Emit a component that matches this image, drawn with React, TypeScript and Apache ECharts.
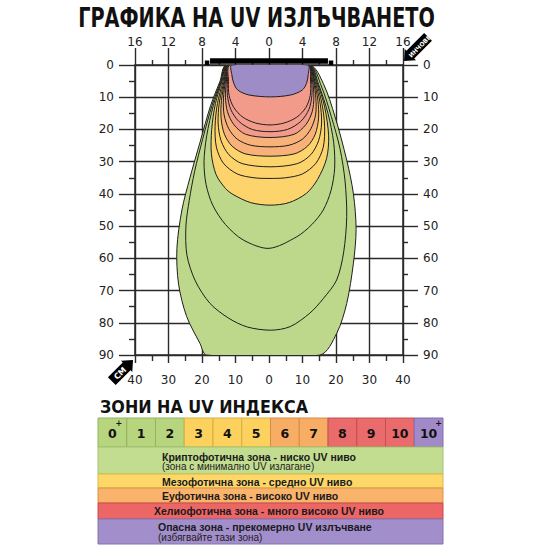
import React, { useEffect, useRef } from 'react';
import * as echarts from 'echarts';

// ---------------- data ----------------
const cmTicks = [-40, -30, -20, -10, 0, 10, 20, 30, 40];
const cmTickLabels = ['40', '30', '20', '10', '0', '10', '20', '30', '40'];
const inchTickLabels = ['16', '12', '8', '4', '0', '4', '8', '12', '16'];
const depthTicks = [0, 10, 20, 30, 40, 50, 60, 70, 80, 90];
const depthTickLabels = ['0', '10', '20', '30', '40', '50', '60', '70', '80', '90'];

// lamp (cm, at depth 0)
const lampSpan = [-17.6, 17.6];
const lampCaps = [-18.5, 18.5];

// iso-UV contours, [cm, depth]
const contourLevels = ['0+', '1', '2', '3', '4', '5', '6', '7', '8', '9', '10', '10+'];
const contour0Plus = [[-12.7, 0], [-14.6, 5], [-17.4, 12.5], [-20.6, 24], [-23.6, 35], [-26, 45], [-27.5, 57], [-27, 68], [-24.6, 78], [-20.6, 86.4], [-18.6, 90], [15.2, 90], [20.2, 83.3], [23.2, 74], [25.2, 61.5], [26, 51], [25.2, 40], [23.2, 29.5], [19.7, 16], [16.2, 5.7], [12.2, 0]];
const contour1 = [[-12.6, 0], [-14.4, 5], [-17, 12.5], [-19.8, 23], [-22.2, 33], [-23.8, 42], [-24.8, 50], [-24.5, 59], [-22, 67], [-17.6, 74], [-12, 78.6], [-6.5, 81.3], [0.5, 82.3], [6.3, 81.2], [12.2, 77], [16.2, 72.5], [20.2, 66.7], [22.3, 58], [23.2, 47], [22.7, 36], [21.2, 26], [18.6, 16], [15.6, 6.5], [12.1, 0]];
const contour2 = [[-12.5, 0], [-14.2, 5], [-16.6, 12.5], [-18.6, 22], [-19.4, 30], [-18.8, 37], [-16.8, 43.5], [-13, 49.5], [-7.7, 54.3], [0, 56.9], [8.3, 53.3], [12.8, 49.5], [16.2, 45], [18.5, 39], [19.6, 32], [19.3, 24], [17.6, 15], [14.8, 6], [12, 0]];
const contour3 = [[-12.4, 0], [-14, 5], [-16, 12], [-17.1, 20], [-17.2, 27.5], [-15.8, 34], [-13, 38.3], [-10.7, 40.2], [-5.5, 42.7], [0.3, 43.5], [6, 42.7], [11.2, 39.8], [14.5, 35.5], [17.2, 29], [17.8, 22], [16.6, 13], [14.4, 5.5], [11.9, 0]];
const contour4 = [[-12.3, 0], [-13.7, 5], [-15.4, 12], [-16.1, 19], [-15.7, 25.5], [-13.6, 30.5], [-9.5, 33.8], [-4.5, 35], [0.3, 35.2], [5, 35], [10, 33.8], [14, 30.5], [16.2, 25.5], [16.6, 19], [15.8, 12], [14, 5], [11.8, 0]];
const contour5 = [[-12.2, 0], [-13.4, 5], [-14.8, 11.5], [-15.2, 18], [-14.3, 23.5], [-12, 27.8], [-8, 30.6], [0.3, 31.6], [8.5, 30.6], [12.5, 27.8], [14.8, 23.5], [15.7, 18], [15.2, 11.5], [13.7, 5], [11.8, 0]];
const contour6 = [[-12.1, 0], [-13.2, 5], [-14.2, 11], [-14.3, 16.5], [-13.3, 21.5], [-11, 25.2], [-7, 27.6], [0.3, 28.3], [7.5, 27.6], [11.5, 25.2], [13.8, 21.5], [14.8, 16.5], [14.6, 11], [13.5, 5], [11.7, 0]];
const contour7 = [[-12, 0], [-13, 5], [-13.6, 10.5], [-13.4, 15.5], [-12, 19.8], [-9.5, 23], [-5.5, 24.9], [0.3, 25.4], [6, 24.9], [10, 23], [12.5, 19.8], [13.9, 15.5], [14, 10.5], [13.3, 5], [11.7, 0]];
const contour8 = [[-11.9, 0], [-12.7, 5], [-13, 10], [-12.4, 14.5], [-10.5, 18.5], [-7, 21.5], [0.3, 22.5], [7.5, 21.5], [11, 18.5], [12.9, 14.5], [13.4, 10], [13, 5], [11.6, 0]];
const contour9 = [[-11.8, 0], [-12.4, 5], [-12.4, 9.5], [-11.4, 13.8], [-9, 17.5], [-5, 20], [0.3, 20.7], [5.5, 20], [9.5, 17.5], [11.9, 13.8], [12.8, 9.5], [12.7, 5], [11.6, 0]];
const contour10 = [[-11.6, 0], [-12.1, 5], [-11.9, 9.5], [-10.5, 13.2], [-7.8, 16.2], [-4, 18], [0.3, 18.6], [4.5, 18], [8.3, 16.2], [11, 13.2], [12.3, 9.5], [12.4, 5], [11.6, 0]];
const contour10Plus = [[-11.1, 0], [-11.1, 3], [-10.5, 5.7], [-9.3, 7.8], [-6, 9.3], [0.5, 9.9], [6.5, 9.3], [9.9, 7.8], [11.2, 5.7], [11.7, 3], [11.6, 0]];
const contours = [contour0Plus, contour1, contour2, contour3, contour4, contour5, contour6, contour7, contour8, contour9, contour10, contour10Plus];

// UV index scale and zones
const uvIndexLabels = ['0', '1', '2', '3', '4', '5', '6', '7', '8', '9', '10', '10'];
const uvIndexPlus = [true, false, false, false, false, false, false, false, false, false, false, true];
const zoneTitles = [
  'Криптофотична зона - ниско UV ниво',
  'Мезофотична зона - средно UV ниво',
  'Еуфотична зона - високо UV ниво',
  'Хелиофотична зона - много високо UV ниво',
  'Опасна зона - прекомерно UV излъчване',
];
const zoneNotes = ['(зона с минимално UV излагане)', '', '', '', '(избягвайте тази зона)'];

const titleText = 'ГРАФИКА НА UV ИЗЛЪЧВАНЕТО';
const subtitleText = 'ЗОНИ НА UV ИНДЕКСА';

// ---------------- styles ----------------
const GREEN = '#bdd88b';
const YELLOW = '#fdd46c';
const ORANGE = '#f8b279';
const SALMON = '#f39b8b';
const PURPLE = '#9e8cc6';
const levelColor: Record<string, string> = {
  '0+': GREEN, '1': GREEN, '2': GREEN, '3': YELLOW, '4': YELLOW, '5': YELLOW,
  '6': ORANGE, '7': ORANGE, '8': SALMON, '9': SALMON, '10': SALMON, '10+': PURPLE,
};
const cellColors = ['#b7d47f', '#b7d47f', '#b7d47f', '#fdd15d', '#fdd15d', '#fdd15d', '#f8ad64', '#f8ad64', '#ea6b6c', '#ea6b6c', '#ea6b6c', '#a08bc8'];
const cellStrokes = ['#93b35e', '#93b35e', '#93b35e', '#d9ae3e', '#d9ae3e', '#d9ae3e', '#d58c46', '#d58c46', '#c44e50', '#c44e50', '#c44e50', '#826db0'];
const zoneLayout = [
  { y: 447, h: 27, fill: '#c3dd90', stroke: '#a3c170', x: 162, ty: 456.5, ny: 466.5 },
  { y: 474, h: 14, fill: '#fdd869', stroke: '#dcb84b', x: 162, ty: 481.5, ny: 0 },
  { y: 488, h: 15, fill: '#f9b36b', stroke: '#d8934d', x: 162, ty: 495.5, ny: 0 },
  { y: 503, h: 16, fill: '#ec6666', stroke: '#c44c4c', x: 154, ty: 511, ny: 0 },
  { y: 519, h: 25, fill: '#a28ecb', stroke: '#8673ae', x: 158, ty: 526.5, ny: 537 },
];

const FONT = 'DejaVu Sans';
const LINE = '#2a2a2a';

function measure(font: string, text: string): number {
  const ctx = document.createElement('canvas').getContext('2d');
  if (!ctx) return 1;
  ctx.font = font;
  return ctx.measureText(text).width || 1;
}

function tickLabel(labels: string[], ticks: number[]) {
  return (v: number) => {
    const i = ticks.indexOf(Math.round(v));
    return i >= 0 ? labels[i] : '';
  };
}

export default function App() {
  const ref = useRef<HTMLDivElement>(null);

  useEffect(() => {
    if (!ref.current) return;
    const chart = echarts.init(ref.current, null, { renderer: 'svg' });

    const titleFont = `bold 26px "${FONT}"`;
    const titleScale = 357 / measure(titleFont, titleText);
    const subFont = `bold 18px "${FONT}"`;
    const subScale = 208 / measure(subFont, subtitleText);

    const labelStyle = { fontFamily: FONT, fontSize: 12, color: '#222' };
    const tickStyle = { color: LINE, width: 1.4 };

    const xCommon = {
      type: 'value', min: -40, max: 40, interval: 10,
      axisLine: { show: true, onZero: false, lineStyle: { color: LINE, width: 1.5 } },
    };
    const yCommon = {
      type: 'value', min: 0, max: 90, interval: 10, inverse: true,
      axisLine: { show: true, onZero: false, lineStyle: { color: LINE, width: 1.5 } },
    };

    const graphics: any[] = [];
    graphics.push({
      type: 'text', x: 256.5, y: 18, scaleX: titleScale, silent: true,
      style: { text: titleText, font: titleFont, fill: '#111', align: 'center', verticalAlign: 'middle', textAlign: 'center', textVerticalAlign: 'middle' },
    });
    graphics.push({
      type: 'text', x: 100, y: 406.5, scaleX: subScale, silent: true,
      style: { text: subtitleText, font: subFont, fill: '#111', align: 'left', verticalAlign: 'middle', textAlign: 'left', textVerticalAlign: 'middle' },
    });
    // arrows
    graphics.push({
      type: 'group', x: 404, y: 61, rotation: Math.PI / 4, silent: true,
      children: [
        { type: 'polygon', shape: { points: [[0, 0], [9, -8], [9, -5.5], [34, -5.5], [34, 5.5], [9, 5.5], [9, 8]] }, style: { fill: '#000' } },
        { type: 'text', x: 21.5, y: 0.5, style: { text: 'ИНЧОВЕ', font: `bold 6px "${FONT}"`, fill: '#fff', align: 'center', verticalAlign: 'middle', textAlign: 'center', textVerticalAlign: 'middle' } },
      ],
    });
    graphics.push({
      type: 'group', x: 133, y: 360, rotation: Math.PI / 4, silent: true,
      children: [
        { type: 'polygon', shape: { points: [[0, 0], [-9, -8], [-9, -5.5], [-30, -5.5], [-30, 5.5], [-9, 5.5], [-9, 8]] }, style: { fill: '#000' } },
        { type: 'text', x: -18.5, y: 0.5, style: { text: 'СМ', font: `bold 8px "${FONT}"`, fill: '#fff', align: 'center', verticalAlign: 'middle', textAlign: 'center', textVerticalAlign: 'middle' } },
      ],
    });
    // UV index cells
    const cx0 = 98, cx1 = 443, cy0 = 418, ch = 29;
    const cw = (cx1 - cx0) / uvIndexLabels.length;
    uvIndexLabels.forEach((lab, i) => {
      const x = cx0 + i * cw;
      graphics.push({ type: 'rect', silent: true, shape: { x, y: cy0, width: cw, height: ch }, style: { fill: cellColors[i], stroke: cellStrokes[i], lineWidth: 1 } });
      graphics.push({ type: 'text', silent: true, x: x + cw / 2, y: cy0 + ch / 2 + 0.5, style: { text: lab, font: `bold 12.5px "${FONT}"`, fill: '#111', align: 'center', verticalAlign: 'middle', textAlign: 'center', textVerticalAlign: 'middle' } });
      if (uvIndexPlus[i]) {
        const off = lab.length > 1 ? 10 : 6.5;
        graphics.push({ type: 'text', silent: true, x: x + cw / 2 + off, y: cy0 + 5, style: { text: '+', font: `bold 8px "${FONT}"`, fill: '#111', align: 'center', verticalAlign: 'middle', textAlign: 'center', textVerticalAlign: 'middle' } });
      }
    });
    // zone rows
    zoneTitles.forEach((t, i) => {
      const L = zoneLayout[i];
      graphics.push({ type: 'rect', silent: true, shape: { x: cx0, y: L.y, width: cx1 - cx0, height: L.h }, style: { fill: L.fill, stroke: L.stroke, lineWidth: 1 } });
      graphics.push({ type: 'text', silent: true, x: L.x, y: L.ty, style: { text: t, font: `bold 10.5px "Liberation Sans"`, fill: '#1a1a1a', align: 'left', verticalAlign: 'middle', textAlign: 'left', textVerticalAlign: 'middle' } });
      if (zoneNotes[i]) {
        graphics.push({ type: 'text', silent: true, x: L.x, y: L.ny, style: { text: zoneNotes[i], font: `10px "Liberation Sans"`, fill: '#222', align: 'left', verticalAlign: 'middle', textAlign: 'left', textVerticalAlign: 'middle' } });
      }
    });

    const option: any = {
      animation: false,
      backgroundColor: '#fff',
      grid: { left: 135, right: 147, top: 65, bottom: 195, containLabel: false },
      xAxis: [
        {
          ...xCommon, position: 'bottom',
          axisTick: { show: true, length: 8, lineStyle: tickStyle },
          minorTick: { show: true, splitNumber: 2, length: 6, lineStyle: tickStyle },
          splitLine: { show: true, lineStyle: { color: LINE, width: 1.4 } },
          axisLabel: { ...labelStyle, margin: 19, formatter: tickLabel(cmTickLabels, cmTicks) },
        },
        {
          ...xCommon, position: 'top',
          axisTick: { show: true, length: 17, lineStyle: tickStyle },
          minorTick: { show: true, splitNumber: 2, length: 5, lineStyle: tickStyle },
          splitLine: { show: false },
          axisLabel: { ...labelStyle, margin: 17, formatter: tickLabel(inchTickLabels, cmTicks) },
        },
      ],
      yAxis: [
        {
          ...yCommon, position: 'left',
          axisTick: { show: true, length: 16, lineStyle: tickStyle },
          minorTick: { show: true, splitNumber: 2, length: 6, lineStyle: tickStyle },
          splitLine: { show: true, lineStyle: { color: LINE, width: 1.4 } },
          axisLabel: { ...labelStyle, margin: 21, formatter: tickLabel(depthTickLabels, depthTicks) },
        },
        {
          ...yCommon, position: 'right',
          axisTick: { show: true, length: 15, lineStyle: tickStyle },
          minorTick: { show: true, splitNumber: 2, length: 5, lineStyle: tickStyle },
          splitLine: { show: false },
          axisLabel: { ...labelStyle, margin: 20, formatter: tickLabel(depthTickLabels, depthTicks) },
        },
      ],
      series: [
        {
          type: 'custom', name: 'UV contours', coordinateSystem: 'cartesian2d', xAxisIndex: 0, yAxisIndex: 0,
          clip: true, z: 3, silent: true,
          data: contours.map((c, i) => ({ name: contourLevels[i], value: c[0] })),
          renderItem: (params: any, api: any) => {
            const i = params.dataIndex;
            const pts = contours[i].map((p) => api.coord(p));
            return {
              type: 'polygon', z2: i,
              shape: { points: pts, smooth: 0.3 },
              style: { fill: levelColor[contourLevels[i]], stroke: '#1e1e1e', lineWidth: 1 },
            };
          },
        },
        {
          type: 'custom', name: 'lamp', coordinateSystem: 'cartesian2d', xAxisIndex: 0, yAxisIndex: 0,
          clip: false, z: 6, silent: true,
          data: [{ value: [lampSpan[0], 0] }],
          renderItem: (params: any, api: any) => {
            const a = api.coord([lampSpan[0], 0]);
            const b = api.coord([lampSpan[1], 0]);
            const l = api.coord([lampCaps[0], 0]);
            const r = api.coord([lampCaps[1], 0]);
            return {
              type: 'group',
              children: [
                { type: 'rect', shape: { x: a[0], y: a[1] - 6.7, width: b[0] - a[0], height: 5.4 }, style: { fill: '#000' } },
                { type: 'rect', shape: { x: l[0] - 2.2, y: l[1] - 4.5, width: 4.5, height: 4.5 }, style: { fill: '#000' } },
                { type: 'rect', shape: { x: r[0] - 2.2, y: r[1] - 4.5, width: 4.5, height: 4.5 }, style: { fill: '#000' } },
              ],
            };
          },
        },
      ],
      graphic: graphics,
    };

    chart.setOption(option);
    return () => chart.dispose();
  }, []);

  return (
    <div
      ref={ref}
      style={{ position: 'fixed', left: 0, top: 0, width: 550, height: 550, background: '#fff' }}
    />
  );
}
